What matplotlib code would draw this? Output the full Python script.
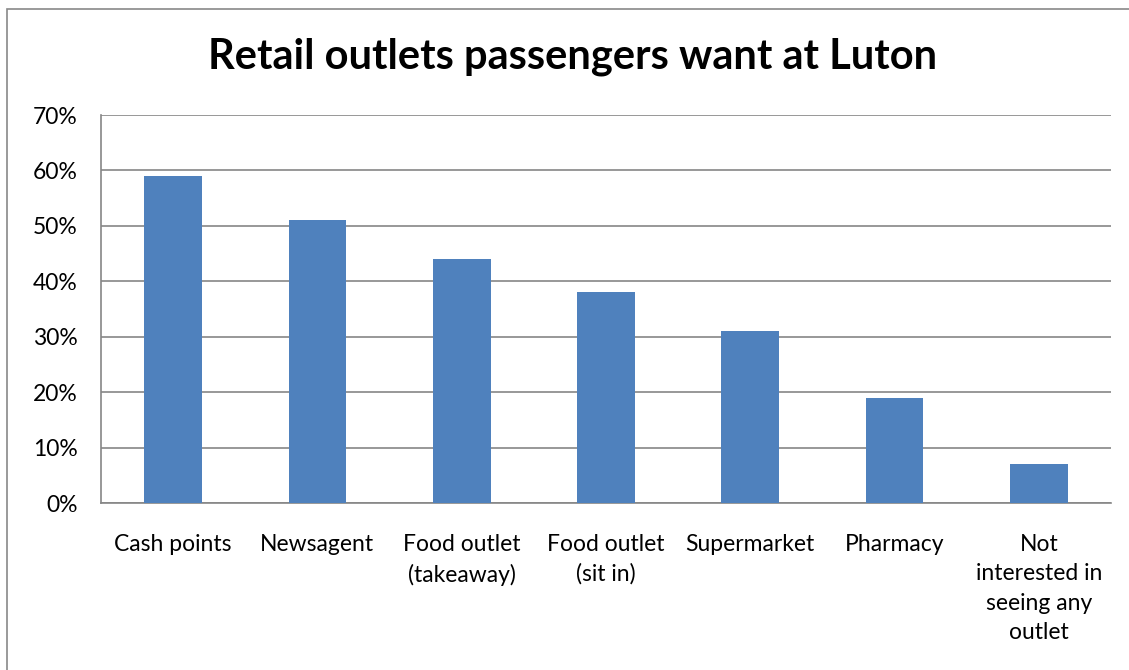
import matplotlib.pyplot as plt
from matplotlib.patches import Rectangle
from matplotlib.ticker import PercentFormatter

categories = ["Cash points", "Newsagent", "Food outlet\n(takeaway)", "Food outlet\n(sit in)",
              "Supermarket", "Pharmacy", "Not\ninterested in\nseeing any\noutlet"]
values = [59, 51, 44, 38, 31, 19, 7]
yticks = [0, 10, 20, 30, 40, 50, 60, 70]

plt.rcParams['font.family'] = ['Lato', 'DejaVu Sans']

fig = plt.figure(figsize=(11.29, 6.70), dpi=100)
fig.patches.append(Rectangle((7 / 1129, -0.05), 1.1, 0.05 + 1 - 9 / 670,
                             transform=fig.transFigure, fill=False,
                             edgecolor='#898989', linewidth=1.2))

ax = fig.add_axes([101 / 1129, 1 - 503 / 670, 1010 / 1129, 388 / 670])
x = range(len(categories))
ax.bar(x, values, width=0.4, color='#4F81BD', zorder=3)

ax.set_xlim(-0.5, len(categories) - 0.5)
ax.set_ylim(0, 70)
ax.set_yticks(yticks)
ax.yaxis.set_major_formatter(PercentFormatter(decimals=0))
ax.set_xticks(list(x))
ax.set_xticklabels(categories, linespacing=1.5)
ax.grid(axis='y', color='#868686', linewidth=1.2, zorder=0)
ax.tick_params(axis='both', length=0, labelsize=16.5, colors='black')
ax.tick_params(axis='y', pad=17)
ax.tick_params(axis='x', pad=22)
for s in ['top', 'right']:
    ax.spines[s].set_visible(False)
for s in ['left', 'bottom']:
    ax.spines[s].set_color('#868686')
    ax.spines[s].set_linewidth(1.2)

fig.text(573 / 1129, 1 - 57 / 670, "Retail outlets passengers want at Luton",
         ha='center', va='center', fontsize=30, fontweight='bold')

fig.savefig("out.png", dpi=100)
